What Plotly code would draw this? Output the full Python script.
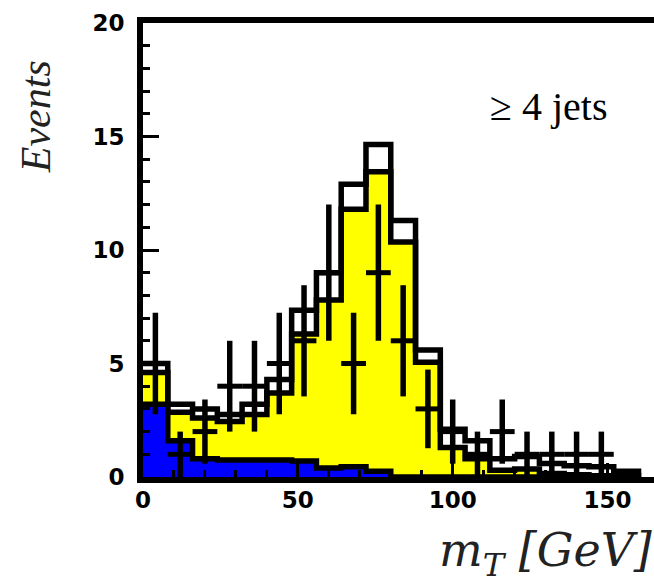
import numpy as np
import plotly.graph_objects as go

# ---- data ----
bin_edges = list(range(0, 168, 8))  # 8 GeV bins, 0..160
blue_bkg = [3.2, 1.6, 0.8, 0.75, 0.75, 0.75, 0.7, 0.4, 0.45, 0.25,
            0, 0, 0, 0, 0, 0, 0, 0, 0, 0]
yellow_sig = [1.4, 1.25, 1.8, 1.7, 2.0, 2.95, 5.6, 7.4, 11.35, 13.2,
              10.35, 5.05, 1.3, 0.8, 0.3, 0.35, 0.15, 0.1, 0.05, 0.05]
white_other = [0.4, 0.35, 0.4, 0.3, 0.45, 0.6, 1.05, 1.2, 1.1, 1.2,
               0.95, 0.55, 0.8, 0.8, 0.5, 0.55, 0.45, 0.4, 0.4, 0.2]
data_counts = [5, 1, 2, 4, 4, 5, 6, 9, 5, 9, 6, 3, 2, 1, 2, 1, 1, 1, 1, 0]

y_ticks = [0, 5, 10, 15, 20]
x_ticks = [0, 50, 100, 150]

# ---- derived ----
edges = np.array(bin_edges, dtype=float)
centers = 0.5 * (edges[:-1] + edges[1:])
widths = np.diff(edges)
lvl_blue = np.array(blue_bkg)
lvl_yellow = lvl_blue + np.array(yellow_sig)
lvl_total = lvl_yellow + np.array(white_other)

fig = go.Figure()

def fill_bars(levels, color):
    fig.add_trace(go.Bar(x=centers, y=levels, width=widths, marker=dict(color=color, line=dict(width=0)),
                         showlegend=False, hoverinfo="skip"))

def step_line(levels):
    xs = list(edges) + [edges[-1]]
    ys = list(levels) + [levels[-1], 0]
    fig.add_trace(go.Scatter(x=xs, y=ys, mode="lines", line=dict(color="black", width=5.5, shape="hv"),
                             showlegend=False, hoverinfo="skip"))

fill_bars(lvl_total, "white")
fill_bars(lvl_yellow, "#ffff00")
fill_bars(lvl_blue, "#0000ff")
step_line(lvl_total)
step_line(lvl_yellow)
step_line(lvl_blue)

dc = np.array(data_counts, dtype=float)
mask = dc > 0
fig.add_trace(go.Scatter(
    x=centers[mask], y=dc[mask], mode="markers",
    marker=dict(size=1, color="black"),
    error_y=dict(type="data", array=np.sqrt(dc[mask]), thickness=5.5, width=0, color="black"),
    error_x=dict(type="data", array=widths[mask] / 2, thickness=5, width=0, color="black"),
    showlegend=False, hoverinfo="skip"))

tickfont = dict(family="DejaVu Sans, sans-serif", size=23, color="black", weight="bold")
serif = "DejaVu Serif, serif"

fig.update_layout(
    width=654, height=588,
    margin=dict(l=143, r=0, t=23, b=111),
    paper_bgcolor="white", plot_bgcolor="white",
    barmode="overlay", bargap=0,
    xaxis=dict(range=[0, 165], showgrid=False, zeroline=False,
               showline=True, linecolor="black", linewidth=6, mirror=True,
               tickvals=x_ticks, ticks="inside", ticklen=14, tickwidth=3, tickcolor="black",
               minor=dict(dtick=10, ticks="inside", ticklen=7, tickwidth=3, tickcolor="black"),
               tickfont=tickfont, ticklabelstandoff=-3),
    yaxis=dict(range=[0, 20], showgrid=False, zeroline=False,
               showline=True, linecolor="black", linewidth=6, mirror=False,
               tickvals=y_ticks, ticks="inside", ticklen=16, tickwidth=3, tickcolor="black",
               minor=dict(dtick=1, ticks="inside", ticklen=7, tickwidth=3, tickcolor="black"),
               tickfont=tickfont, ticklabelstandoff=8),
    annotations=[
        dict(text="\u2265 4 jets", xref="paper", yref="paper", x=0.7945, y=0.815,
             xanchor="center", yanchor="middle", showarrow=False,
             font=dict(family="Liberation Serif, Times New Roman, serif", size=40, color="black")),
        dict(text="<i>Events</i>", xref="paper", yref="paper", x=-0.209, y=0.793,
             xanchor="center", yanchor="middle", textangle=-90, showarrow=False,
             font=dict(family="Liberation Serif, Times New Roman, serif", size=42, color="#222222")),
        dict(text="<i>m</i><sub><i>T</i></sub><i> [GeV]</i>", xref="paper", yref="paper", x=1.0, y=-0.168,
             xanchor="right", yanchor="middle", showarrow=False,
             font=dict(family=serif, size=46, color="#222222")),
    ],
)

fig.write_html("out.html")
